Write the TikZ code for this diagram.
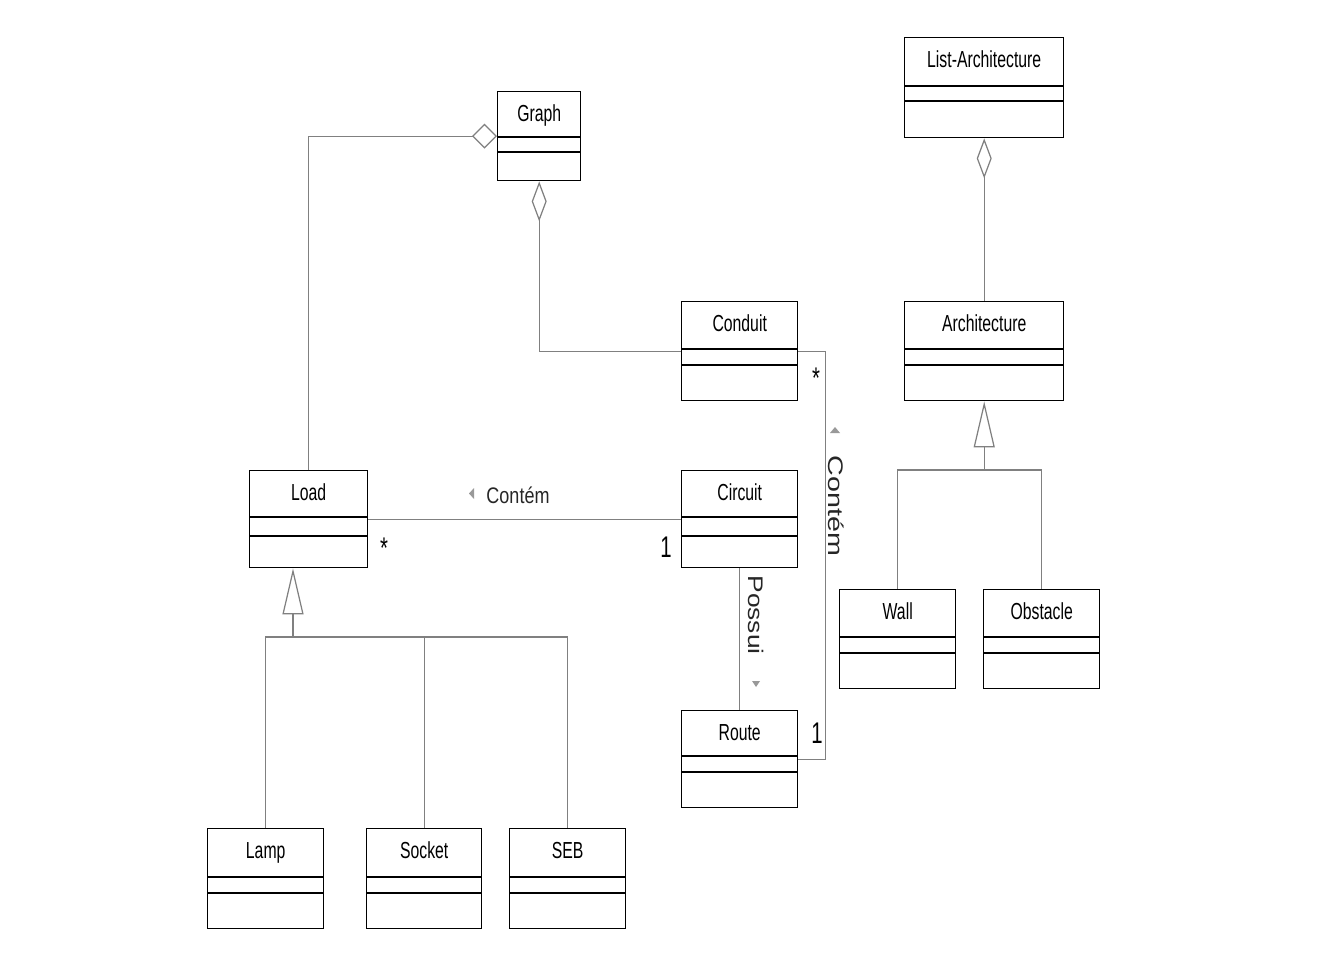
\documentclass[tikz,border=0pt]{standalone}
\usepackage{fontspec}
\setmainfont{Liberation Sans}
\newfontfamily\classfont[FakeStretch=0.68]{Liberation Sans}
\newfontfamily\labelfont[FakeStretch=0.8]{Liberation Sans}
\newfontfamily\widefont[FakeStretch=1.25]{Liberation Sans}
\newfontfamily\widerfont[FakeStretch=1.36]{Liberation Sans}
\usetikzlibrary{arrows.meta}

\tikzset{
    classbox/.style={draw=black, fill=white, line width=0.4pt, anchor=north west, inner sep=0pt},
    classname/.style={font=\classfont\fontsize{6.6}{7}\selectfont, anchor=base, inner sep=0pt},
    conn/.style={draw=gray, line width=0.35pt},
    aggreg/.style={conn, -{Diamond[open, length=0.40cm, width=0.15cm]}},
    aggregside/.style={conn, -{Diamond[open, length=0.25cm, width=0.25cm]}},
    inherit/.style={conn, -{Triangle[open, length=0.46cm, width=0.21cm]}},
    assoclabel/.style={font=\labelfont\fontsize{6.4}{7}\selectfont, anchor=base, inner sep=0pt, text=black!85},
    rotlabel/.style={font=\widefont\fontsize{6}{7}\selectfont, anchor=base, rotate=-90, inner sep=0pt, text=black!85},
    mult/.style={font=\classfont\fontsize{8.5}{9}\selectfont, anchor=base, inner sep=0pt},
    dirmark/.style={fill=gray!80}
}

% class box: name, x, y, width, height, first and second separator, title
\newcommand{\umlclass}[8]{%
    \node[classbox, minimum width=#4*0.01cm, minimum height=#5*0.01cm] (#1) at (#2,#3) {};
    \node[classname] (#1-t) at ([yshift=-0.30cm]#1.north) {#8};
    \draw ([yshift=-#6*0.01cm]#1.north west) -- ([yshift=-#6*0.01cm]#1.north east);
    \draw ([yshift=-#7*0.01cm]#1.north west) -- ([yshift=-#7*0.01cm]#1.north east);
}

\begin{document}
\begin{tikzpicture}[x=0.01cm, y=-0.01cm]
    \useasboundingbox (0,0) rectangle (1334,958);

    % Classes
    \umlclass{Graph}{497}{91}{83}{89}{46}{61}{Graph}
    \umlclass{ListArch}{904}{37}{159}{100}{49}{64}{List-Architecture}
    \umlclass{Conduit}{681}{301}{116}{99}{48}{64}{Conduit}
    \umlclass{Architecture}{904}{301}{159}{99}{48}{64}{Architecture}
    \umlclass{Load}{249}{470}{118}{97}{47}{66}{Load}
    \umlclass{Circuit}{681}{470}{116}{97}{47}{66}{Circuit}
    \umlclass{Route}{681}{710}{116}{97}{46}{62}{Route}
    \umlclass{Wall}{839}{589}{116}{99}{48}{64}{Wall}
    \umlclass{Obstacle}{983}{589}{116}{99}{48}{64}{Obstacle}
    \umlclass{Lamp}{207}{828}{116}{100}{49}{65}{Lamp}
    \umlclass{Socket}{366}{828}{115}{100}{49}{65}{Socket}
    \umlclass{SEB}{509}{828}{116}{100}{49}{65}{SEB}

    % Aggregations
    \draw[aggregside] (Load.north) |- (Graph.west);
    \draw[aggreg] (Conduit.west) -| (Graph.south);
    \draw[aggreg] (Architecture.north) -- (ListArch.south);

    % Generalisations
    \coordinate (loadfork) at (293,637);
    \draw[conn] (Lamp.north) |- (SEB.north |- loadfork) -- (SEB.north);
    \draw[conn] (Socket.north) -- (Socket.north |- loadfork);
    \draw[inherit] (loadfork) -- (loadfork |- Load.south);

    \coordinate (archfork) at (Architecture.south |- 0,470);
    \draw[conn] (Wall.north) |- (Obstacle.north |- archfork) -- (Obstacle.north);
    \draw[inherit] (archfork) -- (Architecture.south);

    % Associations
    \draw[conn] (Load.east) -- (Circuit.west);
    \draw[conn] (Circuit.south) -- (Route.north);
    \draw[conn] (Conduit.east) -- ++(27,0) |- (Route.east);

    % Association labels
    \node[assoclabel] (contem1) at (518,503) {Contém};
    \fill[dirmark] (469,493.5) -- (474,488) -- (474,499) -- cycle;
    \node[mult] (mult1) at (384,558) {*};
    \node[mult] (mult2) at (666,557) {1};

    \node[rotlabel] (possui) at (748,615) {Possui};
    \fill[dirmark] (752,681) -- (760,681) -- (756,687) -- cycle;

    \node[rotlabel, font=\widerfont\fontsize{6}{7}\selectfont] (contem2) at (828,506) {Contém};
    \fill[dirmark] (830,433) -- (840,433) -- (835,427) -- cycle;
    \node[mult] (mult3) at (816,388) {*};
    \node[mult] (mult4) at (817,743) {1};
\end{tikzpicture}
\end{document}
